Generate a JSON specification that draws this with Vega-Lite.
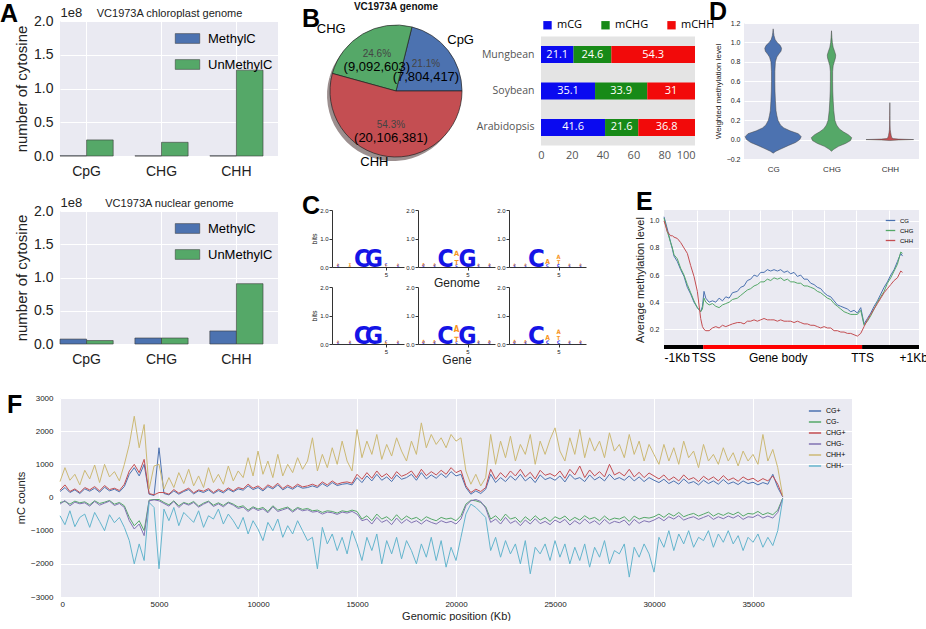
{
"$schema":"https://vega.github.io/schema/vega-lite/v6.json",
"padding":{"left":0,"top":0,"right":0,"bottom":0},
"background":"white",
"spacing":27,
"resolve":{"scale":{"color":"independent","size":"independent","fill":"independent"},"legend":{"color":"independent","size":"independent","fill":"independent"}},
"config":{
 "font":"Liberation Sans",
 "view":{"stroke":null},
 "axis":{"titleFontWeight":"normal","labelColor":"#222","titleColor":"#222","domain":false,"ticks":false,"gridColor":"white","gridWidth":1,"labelOverlap":false},
 "title":{"fontWeight":"normal","color":"#111"}
},
"datasets":{
 "f":[
{"x":0,"CG+":180,"CG-":-150,"CHG+":220,"CHG-":-200,"CHH+":480,"CHH-":-550},
{"x":250,"CG+":300,"CG-":-120,"CHG+":380,"CHG-":-90,"CHH+":900,"CHH-":-820},
{"x":500,"CG+":150,"CG-":-200,"CHG+":180,"CHG-":-250,"CHH+":520,"CHH-":-400},
{"x":750,"CG+":230,"CG-":-110,"CHG+":260,"CHG-":-140,"CHH+":700,"CHH-":-880},
{"x":1000,"CG+":120,"CG-":-160,"CHG+":150,"CHG-":-190,"CHH+":380,"CHH-":-600},
{"x":1250,"CG+":260,"CG-":-130,"CHG+":300,"CHG-":-160,"CHH+":820,"CHH-":-500},
{"x":1500,"CG+":190,"CG-":-220,"CHG+":230,"CHG-":-260,"CHH+":560,"CHH-":-900},
{"x":1750,"CG+":280,"CG-":-100,"CHG+":330,"CHG-":-120,"CHH+":980,"CHH-":-450},
{"x":2000,"CG+":160,"CG-":-180,"CHG+":200,"CHG-":-230,"CHH+":450,"CHH-":-720},
{"x":2250,"CG+":310,"CG-":-140,"CHG+":360,"CHG-":-170,"CHH+":1000,"CHH-":-1000},
{"x":2500,"CG+":200,"CG-":-90,"CHG+":240,"CHG-":-110,"CHH+":620,"CHH-":-520},
{"x":2750,"CG+":250,"CG-":-200,"CHG+":280,"CHG-":-240,"CHH+":780,"CHH-":-760},
{"x":3000,"CG+":170,"CG-":-150,"CHG+":210,"CHG-":-180,"CHH+":500,"CHH-":-600},
{"x":3250,"CG+":330,"CG-":-250,"CHG+":400,"CHG-":-300,"CHH+":1000,"CHH-":-900},
{"x":3500,"CG+":700,"CG-":-600,"CHG+":800,"CHG-":-700,"CHH+":1600,"CHH-":-1300},
{"x":3750,"CG+":900,"CG-":-850,"CHG+":1000,"CHG-":-950,"CHH+":2450,"CHH-":-2000},
{"x":4000,"CG+":650,"CG-":-700,"CHG+":750,"CHG-":-800,"CHH+":1500,"CHH-":-1400},
{"x":4250,"CG+":1000,"CG-":-1000,"CHG+":1150,"CHG-":-1150,"CHH+":2200,"CHH-":-1900},
{"x":4500,"CG+":100,"CG-":-80,"CHG+":120,"CHG-":-100,"CHH+":250,"CHH-":-150},
{"x":4750,"CG+":60,"CG-":-60,"CHG+":80,"CHG-":-70,"CHH+":950,"CHH-":-300},
{"x":5000,"CG+":1500,"CG-":-60,"CHG+":150,"CHG-":-100,"CHH+":1000,"CHH-":-2150},
{"x":5250,"CG+":120,"CG-":-150,"CHG+":150,"CHG-":-180,"CHH+":250,"CHH-":-350},
{"x":5500,"CG+":80,"CG-":-220,"CHG+":100,"CHG-":-260,"CHH+":600,"CHH-":-700},
{"x":5750,"CG+":200,"CG-":-100,"CHG+":240,"CHG-":-120,"CHH+":300,"CHH-":-300},
{"x":6000,"CG+":100,"CG-":-250,"CHG+":130,"CHG-":-300,"CHH+":750,"CHH-":-850},
{"x":6250,"CG+":180,"CG-":-150,"CHG+":210,"CHG-":-170,"CHH+":420,"CHH-":-450},
{"x":6500,"CG+":240,"CG-":-200,"CHG+":280,"CHG-":-230,"CHH+":850,"CHH-":-600},
{"x":6750,"CG+":110,"CG-":-120,"CHG+":140,"CHG-":-150,"CHH+":350,"CHH-":-750},
{"x":7000,"CG+":200,"CG-":-260,"CHG+":230,"CHG-":-290,"CHH+":650,"CHH-":-400},
{"x":7250,"CG+":150,"CG-":-170,"CHG+":190,"CHG-":-200,"CHH+":300,"CHH-":-900},
{"x":7500,"CG+":230,"CG-":-110,"CHG+":270,"CHG-":-130,"CHH+":900,"CHH-":-550},
{"x":7750,"CG+":120,"CG-":-230,"CHG+":150,"CHG-":-270,"CHH+":450,"CHH-":-650},
{"x":8000,"CG+":210,"CG-":-160,"CHG+":250,"CHG-":-190,"CHH+":700,"CHH-":-350},
{"x":8250,"CG+":140,"CG-":-240,"CHG+":180,"CHG-":-280,"CHH+":400,"CHH-":-800},
{"x":8500,"CG+":250,"CG-":-140,"CHG+":290,"CHG-":-160,"CHH+":950,"CHH-":-500},
{"x":8750,"CG+":170,"CG-":-200,"CHG+":200,"CHG-":-230,"CHH+":500,"CHH-":-700},
{"x":9000,"CG+":260,"CG-":-290,"CHG+":300,"CHG-":-330,"CHH+":800,"CHH-":-950},
{"x":9250,"CG+":220,"CG-":-250,"CHG+":260,"CHG-":-290,"CHH+":600,"CHH-":-600},
{"x":9500,"CG+":350,"CG-":-380,"CHG+":400,"CHG-":-420,"CHH+":1200,"CHH-":-1100},
{"x":9750,"CG+":240,"CG-":-280,"CHG+":280,"CHG-":-310,"CHH+":650,"CHH-":-700},
{"x":10000,"CG+":300,"CG-":-350,"CHG+":350,"CHG-":-390,"CHH+":1400,"CHH-":-950},
{"x":10250,"CG+":200,"CG-":-300,"CHG+":240,"CHG-":-340,"CHH+":700,"CHH-":-1300},
{"x":10500,"CG+":330,"CG-":-420,"CHG+":380,"CHG-":-460,"CHH+":1100,"CHH-":-750},
{"x":10750,"CG+":260,"CG-":-250,"CHG+":300,"CHG-":-280,"CHH+":600,"CHH-":-1000},
{"x":11000,"CG+":380,"CG-":-380,"CHG+":430,"CHG-":-420,"CHH+":1300,"CHH-":-650},
{"x":11250,"CG+":230,"CG-":-330,"CHG+":270,"CHG-":-370,"CHH+":650,"CHH-":-1200},
{"x":11500,"CG+":320,"CG-":-290,"CHG+":370,"CHG-":-320,"CHH+":1000,"CHH-":-850},
{"x":11750,"CG+":250,"CG-":-400,"CHG+":290,"CHG-":-440,"CHH+":750,"CHH-":-1100},
{"x":12000,"CG+":350,"CG-":-300,"CHG+":400,"CHG-":-330,"CHH+":1200,"CHH-":-700},
{"x":12250,"CG+":280,"CG-":-360,"CHG+":320,"CHG-":-400,"CHH+":850,"CHH-":-1000},
{"x":12500,"CG+":300,"CG-":-330,"CHG+":350,"CHG-":-370,"CHH+":1100,"CHH-":-1300},
{"x":12750,"CG+":350,"CG-":-400,"CHG+":400,"CHG-":-440,"CHH+":1800,"CHH-":-1200},
{"x":13000,"CG+":300,"CG-":-380,"CHG+":340,"CHG-":-420,"CHH+":800,"CHH-":-2150},
{"x":13250,"CG+":420,"CG-":-450,"CHG+":470,"CHG-":-500,"CHH+":1300,"CHH-":-900},
{"x":13500,"CG+":330,"CG-":-400,"CHG+":380,"CHG-":-440,"CHH+":900,"CHH-":-1400},
{"x":13750,"CG+":450,"CG-":-420,"CHG+":500,"CHG-":-460,"CHH+":1500,"CHH-":-1100},
{"x":14000,"CG+":360,"CG-":-470,"CHG+":400,"CHG-":-510,"CHH+":1000,"CHH-":-1600},
{"x":14250,"CG+":400,"CG-":-400,"CHG+":450,"CHG-":-440,"CHH+":1700,"CHH-":-1200},
{"x":14500,"CG+":420,"CG-":-430,"CHG+":470,"CHG-":-470,"CHH+":1100,"CHH-":-1700},
{"x":14750,"CG+":380,"CG-":-380,"CHG+":430,"CHG-":-420,"CHH+":800,"CHH-":-1000},
{"x":15000,"CG+":600,"CG-":-420,"CHG+":700,"CHG-":-500,"CHH+":2050,"CHH-":-1400},
{"x":15250,"CG+":450,"CG-":-650,"CHG+":550,"CHG-":-700,"CHH+":1200,"CHH-":-1900},
{"x":15500,"CG+":650,"CG-":-550,"CHG+":750,"CHG-":-650,"CHH+":1700,"CHH-":-1200},
{"x":15750,"CG+":500,"CG-":-700,"CHG+":580,"CHG-":-800,"CHH+":1300,"CHH-":-1600},
{"x":16000,"CG+":700,"CG-":-500,"CHG+":800,"CHG-":-600,"CHH+":1900,"CHH-":-1100},
{"x":16250,"CG+":520,"CG-":-650,"CHG+":620,"CHG-":-750,"CHH+":1150,"CHH-":-2000},
{"x":16500,"CG+":620,"CG-":-580,"CHG+":720,"CHG-":-680,"CHH+":1600,"CHH-":-1300},
{"x":16750,"CG+":480,"CG-":-700,"CHG+":560,"CHG-":-820,"CHH+":1250,"CHH-":-1700},
{"x":17000,"CG+":680,"CG-":-520,"CHG+":780,"CHG-":-620,"CHH+":1800,"CHH-":-1200},
{"x":17250,"CG+":550,"CG-":-680,"CHG+":640,"CHG-":-780,"CHH+":1400,"CHH-":-1850},
{"x":17500,"CG+":600,"CG-":-560,"CHG+":700,"CHG-":-660,"CHH+":1100,"CHH-":-1300},
{"x":17750,"CG+":700,"CG-":-650,"CHG+":800,"CHG-":-760,"CHH+":1700,"CHH-":-1600},
{"x":18000,"CG+":520,"CG-":-600,"CHG+":600,"CHG-":-700,"CHH+":1300,"CHH-":-2000},
{"x":18250,"CG+":750,"CG-":-700,"CHG+":850,"CHG-":-800,"CHH+":2250,"CHH-":-1400},
{"x":18500,"CG+":560,"CG-":-580,"CHG+":660,"CHG-":-680,"CHH+":1500,"CHH-":-1800},
{"x":18750,"CG+":680,"CG-":-650,"CHG+":780,"CHG-":-750,"CHH+":1900,"CHH-":-1200},
{"x":19000,"CG+":580,"CG-":-700,"CHG+":680,"CHG-":-800,"CHH+":1600,"CHH-":-1900},
{"x":19250,"CG+":720,"CG-":-600,"CHG+":820,"CHG-":-700,"CHH+":1800,"CHH-":-1300},
{"x":19500,"CG+":600,"CG-":-650,"CHG+":700,"CHG-":-760,"CHH+":1500,"CHH-":-2100},
{"x":19750,"CG+":780,"CG-":-620,"CHG+":900,"CHG-":-720,"CHH+":1900,"CHH-":-1500},
{"x":20000,"CG+":650,"CG-":-700,"CHG+":750,"CHG-":-800,"CHH+":1700,"CHH-":-1900},
{"x":20250,"CG+":700,"CG-":-550,"CHG+":820,"CHG-":-650,"CHH+":1800,"CHH-":-1200},
{"x":20500,"CG+":300,"CG-":-200,"CHG+":350,"CHG-":-250,"CHH+":800,"CHH-":-500},
{"x":20750,"CG+":100,"CG-":-80,"CHG+":150,"CHG-":-100,"CHH+":400,"CHH-":-200},
{"x":21000,"CG+":200,"CG-":-100,"CHG+":250,"CHG-":-60,"CHH+":700,"CHH-":-300},
{"x":21250,"CG+":120,"CG-":-150,"CHG+":180,"CHG-":-120,"CHH+":350,"CHH-":-450},
{"x":21500,"CG+":250,"CG-":-280,"CHG+":300,"CHG-":-320,"CHH+":600,"CHH-":-600},
{"x":21750,"CG+":700,"CG-":-650,"CHG+":850,"CHG-":-750,"CHH+":1900,"CHH-":-1600},
{"x":22000,"CG+":450,"CG-":-550,"CHG+":550,"CHG-":-650,"CHH+":1000,"CHH-":-1200},
{"x":22250,"CG+":600,"CG-":-700,"CHG+":750,"CHG-":-800,"CHH+":1700,"CHH-":-1800},
{"x":22500,"CG+":480,"CG-":-500,"CHG+":600,"CHG-":-600,"CHH+":1200,"CHH-":-1300},
{"x":22750,"CG+":650,"CG-":-650,"CHG+":800,"CHG-":-780,"CHH+":1850,"CHH-":-1700},
{"x":23000,"CG+":520,"CG-":-600,"CHG+":650,"CHG-":-700,"CHH+":1100,"CHH-":-1400},
{"x":23250,"CG+":700,"CG-":-750,"CHG+":850,"CHG-":-850,"CHH+":1600,"CHH-":-2000},
{"x":23500,"CG+":500,"CG-":-580,"CHG+":620,"CHG-":-680,"CHH+":1300,"CHH-":-1300},
{"x":23750,"CG+":620,"CG-":-700,"CHG+":760,"CHG-":-800,"CHH+":1900,"CHH-":-2300},
{"x":24000,"CG+":450,"CG-":-550,"CHG+":560,"CHG-":-640,"CHH+":1000,"CHH-":-1500},
{"x":24250,"CG+":680,"CG-":-680,"CHG+":820,"CHG-":-790,"CHH+":1700,"CHH-":-1700},
{"x":24500,"CG+":540,"CG-":-600,"CHG+":670,"CHG-":-720,"CHH+":1300,"CHH-":-1400},
{"x":24750,"CG+":600,"CG-":-720,"CHG+":720,"CHG-":-820,"CHH+":1750,"CHH-":-1900},
{"x":25000,"CG+":520,"CG-":-580,"CHG+":640,"CHG-":-680,"CHH+":2100,"CHH-":-1300},
{"x":25250,"CG+":650,"CG-":-650,"CHG+":800,"CHG-":-760,"CHH+":1400,"CHH-":-1800},
{"x":25500,"CG+":470,"CG-":-560,"CHG+":580,"CHG-":-660,"CHH+":1100,"CHH-":-1400},
{"x":25750,"CG+":700,"CG-":-700,"CHG+":850,"CHG-":-830,"CHH+":1800,"CHH-":-2000},
{"x":26000,"CG+":550,"CG-":-600,"CHG+":680,"CHG-":-700,"CHH+":1300,"CHH-":-1500},
{"x":26250,"CG+":600,"CG-":-680,"CHG+":950,"CHG-":-800,"CHH+":2050,"CHH-":-1900},
{"x":26500,"CG+":480,"CG-":-550,"CHG+":600,"CHG-":-650,"CHH+":1200,"CHH-":-1400},
{"x":26750,"CG+":680,"CG-":-650,"CHG+":830,"CHG-":-780,"CHH+":1800,"CHH-":-2100},
{"x":27000,"CG+":530,"CG-":-600,"CHG+":650,"CHG-":-700,"CHH+":1400,"CHH-":-1500},
{"x":27250,"CG+":620,"CG-":-700,"CHG+":780,"CHG-":-820,"CHH+":1700,"CHH-":-1800},
{"x":27500,"CG+":500,"CG-":-560,"CHG+":620,"CHG-":-660,"CHH+":1200,"CHH-":-1300},
{"x":27750,"CG+":700,"CG-":-680,"CHG+":1000,"CHG-":-790,"CHH+":1950,"CHH-":-2000},
{"x":28000,"CG+":540,"CG-":-620,"CHG+":680,"CHG-":-720,"CHH+":1400,"CHH-":-1600},
{"x":28250,"CG+":600,"CG-":-650,"CHG+":760,"CHG-":-760,"CHH+":1600,"CHH-":-1700},
{"x":28500,"CG+":520,"CG-":-580,"CHG+":650,"CHG-":-680,"CHH+":1200,"CHH-":-1400},
{"x":28750,"CG+":650,"CG-":-720,"CHG+":850,"CHG-":-840,"CHH+":1900,"CHH-":-2400},
{"x":29000,"CG+":500,"CG-":-560,"CHG+":620,"CHG-":-660,"CHH+":1300,"CHH-":-1500},
{"x":29250,"CG+":620,"CG-":-650,"CHG+":760,"CHG-":-780,"CHH+":1700,"CHH-":-1800},
{"x":29500,"CG+":480,"CG-":-600,"CHG+":600,"CHG-":-700,"CHH+":1100,"CHH-":-1400},
{"x":29750,"CG+":600,"CG-":-620,"CHG+":740,"CHG-":-740,"CHH+":1600,"CHH-":-1700},
{"x":30000,"CG+":520,"CG-":-580,"CHG+":650,"CHG-":-680,"CHH+":1300,"CHH-":-2250},
{"x":30250,"CG+":450,"CG-":-500,"CHG+":560,"CHG-":-600,"CHH+":1000,"CHH-":-1200},
{"x":30500,"CG+":550,"CG-":-600,"CHG+":680,"CHG-":-700,"CHH+":1600,"CHH-":-1500},
{"x":30750,"CG+":420,"CG-":-480,"CHG+":520,"CHG-":-580,"CHH+":1100,"CHH-":-1000},
{"x":31000,"CG+":500,"CG-":-560,"CHG+":620,"CHG-":-650,"CHH+":1500,"CHH-":-1600},
{"x":31250,"CG+":400,"CG-":-450,"CHG+":500,"CHG-":-550,"CHH+":1000,"CHH-":-1100},
{"x":31500,"CG+":560,"CG-":-580,"CHG+":680,"CHG-":-680,"CHH+":1700,"CHH-":-1400},
{"x":31750,"CG+":430,"CG-":-520,"CHG+":540,"CHG-":-620,"CHH+":1200,"CHH-":-1000},
{"x":32000,"CG+":480,"CG-":-480,"CHG+":600,"CHG-":-580,"CHH+":1400,"CHH-":-1500},
{"x":32250,"CG+":380,"CG-":-560,"CHG+":480,"CHG-":-660,"CHH+":900,"CHH-":-1200},
{"x":32500,"CG+":520,"CG-":-500,"CHG+":640,"CHG-":-600,"CHH+":1600,"CHH-":-1300},
{"x":32750,"CG+":420,"CG-":-440,"CHG+":530,"CHG-":-540,"CHH+":1100,"CHH-":-1000},
{"x":33000,"CG+":500,"CG-":-560,"CHG+":620,"CHG-":-660,"CHH+":1300,"CHH-":-1500},
{"x":33250,"CG+":400,"CG-":-480,"CHG+":500,"CHG-":-580,"CHH+":1000,"CHH-":-1100},
{"x":33500,"CG+":540,"CG-":-540,"CHG+":660,"CHG-":-640,"CHH+":1500,"CHH-":-1350},
{"x":33750,"CG+":410,"CG-":-460,"CHG+":520,"CHG-":-560,"CHH+":1100,"CHH-":-1000},
{"x":34000,"CG+":470,"CG-":-520,"CHG+":590,"CHG-":-620,"CHH+":1350,"CHH-":-1400},
{"x":34250,"CG+":390,"CG-":-440,"CHG+":490,"CHG-":-540,"CHH+":950,"CHH-":-1150},
{"x":34500,"CG+":500,"CG-":-560,"CHG+":620,"CHG-":-660,"CHH+":1400,"CHH-":-1600},
{"x":34750,"CG+":420,"CG-":-480,"CHG+":530,"CHG-":-580,"CHH+":1100,"CHH-":-1200},
{"x":35000,"CG+":460,"CG-":-500,"CHG+":580,"CHG-":-600,"CHH+":1300,"CHH-":-1350},
{"x":35250,"CG+":380,"CG-":-420,"CHG+":480,"CHG-":-520,"CHH+":1000,"CHH-":-1100},
{"x":35500,"CG+":450,"CG-":-520,"CHG+":570,"CHG-":-620,"CHH+":1900,"CHH-":-1500},
{"x":35750,"CG+":400,"CG-":-460,"CHG+":500,"CHG-":-560,"CHH+":1100,"CHH-":-1200},
{"x":36000,"CG+":700,"CG-":-520,"CHG+":650,"CHG-":-620,"CHH+":1450,"CHH-":-1450},
{"x":36250,"CG+":300,"CG-":-380,"CHG+":400,"CHG-":-450,"CHH+":900,"CHH-":-1000},
{"x":36500,"CG+":20,"CG-":-20,"CHG+":30,"CHG-":-30,"CHH+":50,"CHH-":-50}
 ],
 "e":[
{"p":0,"CG":1.03,"CHG":1.02,"CHH":1.0},{"p":1.7,"CG":0.94,"CHG":0.92,"CHH":0.92},{"p":3.4,"CG":0.84,"CHG":0.84,"CHH":0.89},{"p":4.3,"CG":0.79,"CHG":0.8,"CHH":0.89},{"p":5.1,"CG":0.74,"CHG":0.75,"CHH":0.88},{"p":6.8,"CG":0.7,"CHG":0.72,"CHH":0.87},{"p":8.5,"CG":0.64,"CHG":0.65,"CHH":0.84},{"p":10.2,"CG":0.59,"CHG":0.6,"CHH":0.8},{"p":11.9,"CG":0.51,"CHG":0.53,"CHH":0.76},{"p":13.6,"CG":0.46,"CHG":0.47,"CHH":0.67},{"p":15.3,"CG":0.4,"CHG":0.41,"CHH":0.59},{"p":17.0,"CG":0.36,"CHG":0.36,"CHH":0.48},{"p":18.7,"CG":0.33,"CHG":0.33,"CHH":0.28},{"p":19.6,"CG":0.37,"CHG":0.35,"CHH":0.22},{"p":20.4,"CG":0.48,"CHG":0.43,"CHH":0.2},{"p":21.3,"CG":0.43,"CHG":0.4,"CHH":0.19},{"p":23.0,"CG":0.4,"CHG":0.38,"CHH":0.19},{"p":24.7,"CG":0.41,"CHG":0.39,"CHH":0.21},{"p":26.4,"CG":0.4,"CHG":0.37,"CHH":0.22},{"p":28.1,"CG":0.43,"CHG":0.36,"CHH":0.21},{"p":29.8,"CG":0.41,"CHG":0.38,"CHH":0.23},{"p":31.5,"CG":0.44,"CHG":0.39,"CHH":0.22},{"p":33.2,"CG":0.43,"CHG":0.4,"CHH":0.23},{"p":34.9,"CG":0.47,"CHG":0.42,"CHH":0.24},{"p":37.4,"CG":0.48,"CHG":0.43,"CHH":0.25},{"p":39.1,"CG":0.51,"CHG":0.45,"CHH":0.25},{"p":40.8,"CG":0.52,"CHG":0.47,"CHH":0.24},{"p":42.5,"CG":0.56,"CHG":0.49,"CHH":0.26},{"p":44.2,"CG":0.57,"CHG":0.5,"CHH":0.26},{"p":45.9,"CG":0.6,"CHG":0.52,"CHH":0.27},{"p":47.6,"CG":0.59,"CHG":0.53,"CHH":0.26},{"p":49.3,"CG":0.62,"CHG":0.55,"CHH":0.27},{"p":51.0,"CG":0.62,"CHG":0.55,"CHH":0.28},{"p":52.7,"CG":0.64,"CHG":0.57,"CHH":0.27},{"p":54.4,"CG":0.63,"CHG":0.56,"CHH":0.27},{"p":56.1,"CG":0.64,"CHG":0.58,"CHH":0.27},{"p":57.8,"CG":0.63,"CHG":0.57,"CHH":0.26},{"p":59.5,"CG":0.64,"CHG":0.58,"CHH":0.27},{"p":61.2,"CG":0.62,"CHG":0.56,"CHH":0.26},{"p":62.9,"CG":0.63,"CHG":0.57,"CHH":0.26},{"p":64.6,"CG":0.61,"CHG":0.55,"CHH":0.26},{"p":66.3,"CG":0.62,"CHG":0.55,"CHH":0.25},{"p":68.0,"CG":0.59,"CHG":0.54,"CHH":0.26},{"p":69.7,"CG":0.6,"CHG":0.54,"CHH":0.25},{"p":71.4,"CG":0.57,"CHG":0.52,"CHH":0.24},{"p":73.1,"CG":0.57,"CHG":0.52,"CHH":0.24},{"p":74.8,"CG":0.54,"CHG":0.51,"CHH":0.23},{"p":76.5,"CG":0.53,"CHG":0.5,"CHH":0.23},{"p":78.2,"CG":0.51,"CHG":0.48,"CHH":0.22},{"p":79.9,"CG":0.5,"CHG":0.47,"CHH":0.21},{"p":81.6,"CG":0.47,"CHG":0.45,"CHH":0.22},{"p":83.3,"CG":0.45,"CHG":0.43,"CHH":0.21},{"p":85.0,"CG":0.44,"CHG":0.42,"CHH":0.21},{"p":86.7,"CG":0.41,"CHG":0.39,"CHH":0.19},{"p":88.4,"CG":0.38,"CHG":0.37,"CHH":0.19},{"p":90.1,"CG":0.37,"CHG":0.35,"CHH":0.18},{"p":91.8,"CG":0.36,"CHG":0.33,"CHH":0.18},{"p":93.5,"CG":0.35,"CHG":0.32,"CHH":0.17},{"p":95.2,"CG":0.33,"CHG":0.31,"CHH":0.17},{"p":96.9,"CG":0.34,"CHG":0.31,"CHH":0.16},{"p":98.6,"CG":0.32,"CHG":0.31,"CHH":0.15},{"p":100.3,"CG":0.36,"CHG":0.34,"CHH":0.17},{"p":102.0,"CG":0.24,"CHG":0.23,"CHH":0.22},{"p":103.7,"CG":0.28,"CHG":0.26,"CHH":0.27},{"p":105.4,"CG":0.32,"CHG":0.3,"CHH":0.31},{"p":107.1,"CG":0.37,"CHG":0.35,"CHH":0.35},{"p":108.8,"CG":0.41,"CHG":0.4,"CHH":0.39},{"p":110.5,"CG":0.46,"CHG":0.44,"CHH":0.43},{"p":112.2,"CG":0.51,"CHG":0.48,"CHH":0.47},{"p":113.9,"CG":0.55,"CHG":0.54,"CHH":0.5},{"p":115.6,"CG":0.6,"CHG":0.58,"CHH":0.53},{"p":117.3,"CG":0.64,"CHG":0.63,"CHH":0.56},{"p":119.0,"CG":0.7,"CHG":0.68,"CHH":0.58},{"p":120.7,"CG":0.76,"CHG":0.77,"CHH":0.63},{"p":121.6,"CG":0.74,"CHG":0.76,"CHH":0.62}
 ],
 "violin":[
{"ctx":"CG","y":-0.14,"w":0},{"ctx":"CG","y":-0.12,"w":0.1},{"ctx":"CG","y":-0.1,"w":0.25},{"ctx":"CG","y":-0.06,"w":0.55},{"ctx":"CG","y":-0.03,"w":0.8},{"ctx":"CG","y":0,"w":0.95},{"ctx":"CG","y":0.03,"w":1},{"ctx":"CG","y":0.06,"w":0.9},{"ctx":"CG","y":0.09,"w":0.6},{"ctx":"CG","y":0.12,"w":0.38},{"ctx":"CG","y":0.15,"w":0.26},{"ctx":"CG","y":0.2,"w":0.17},{"ctx":"CG","y":0.25,"w":0.13},{"ctx":"CG","y":0.3,"w":0.1},{"ctx":"CG","y":0.4,"w":0.08},{"ctx":"CG","y":0.5,"w":0.065},{"ctx":"CG","y":0.6,"w":0.06},{"ctx":"CG","y":0.7,"w":0.06},{"ctx":"CG","y":0.8,"w":0.08},{"ctx":"CG","y":0.85,"w":0.13},{"ctx":"CG","y":0.88,"w":0.2},{"ctx":"CG","y":0.91,"w":0.28},{"ctx":"CG","y":0.94,"w":0.3},{"ctx":"CG","y":0.97,"w":0.25},{"ctx":"CG","y":1.0,"w":0.14},{"ctx":"CG","y":1.03,"w":0.07},{"ctx":"CG","y":1.07,"w":0.03},{"ctx":"CG","y":1.1,"w":0.015},{"ctx":"CG","y":1.14,"w":0},
{"ctx":"CHG","y":-0.12,"w":0},{"ctx":"CHG","y":-0.1,"w":0.08},{"ctx":"CHG","y":-0.07,"w":0.25},{"ctx":"CHG","y":-0.04,"w":0.5},{"ctx":"CHG","y":-0.01,"w":0.68},{"ctx":"CHG","y":0.02,"w":0.72},{"ctx":"CHG","y":0.05,"w":0.6},{"ctx":"CHG","y":0.08,"w":0.42},{"ctx":"CHG","y":0.11,"w":0.28},{"ctx":"CHG","y":0.15,"w":0.18},{"ctx":"CHG","y":0.2,"w":0.12},{"ctx":"CHG","y":0.3,"w":0.08},{"ctx":"CHG","y":0.4,"w":0.06},{"ctx":"CHG","y":0.5,"w":0.045},{"ctx":"CHG","y":0.6,"w":0.04},{"ctx":"CHG","y":0.7,"w":0.04},{"ctx":"CHG","y":0.76,"w":0.06},{"ctx":"CHG","y":0.8,"w":0.1},{"ctx":"CHG","y":0.84,"w":0.14},{"ctx":"CHG","y":0.87,"w":0.15},{"ctx":"CHG","y":0.9,"w":0.12},{"ctx":"CHG","y":0.95,"w":0.06},{"ctx":"CHG","y":1.0,"w":0.03},{"ctx":"CHG","y":1.05,"w":0.015},{"ctx":"CHG","y":1.12,"w":0},
{"ctx":"CHH","y":-0.01,"w":0},{"ctx":"CHH","y":-0.005,"w":0.3},{"ctx":"CHH","y":0,"w":0.85},{"ctx":"CHH","y":0.005,"w":0.3},{"ctx":"CHH","y":0.01,"w":0.12},{"ctx":"CHH","y":0.02,"w":0.07},{"ctx":"CHH","y":0.04,"w":0.05},{"ctx":"CHH","y":0.07,"w":0.03},{"ctx":"CHH","y":0.1,"w":0.015},{"ctx":"CHH","y":0.15,"w":0.008},{"ctx":"CHH","y":0.25,"w":0.005},{"ctx":"CHH","y":0.38,"w":0}
 ],
 "logo":[
{"panel":"g1","pos":1,"l":"A","b":0.05},{"panel":"g1","pos":1,"l":"C","b":0.03},{"panel":"g1","pos":2,"l":"T","b":0.06},{"panel":"g1","pos":2,"l":"A","b":0.03},{"panel":"g1","pos":3,"l":"C","b":1.7},{"panel":"g1","pos":4,"l":"G","b":1.7},{"panel":"g1","pos":5,"l":"C","b":0.06},{"panel":"g1","pos":5,"l":"T","b":0.04},{"panel":"g1","pos":6,"l":"A","b":0.04},{"panel":"g1","pos":6,"l":"C","b":0.02},
{"panel":"g2","pos":1,"l":"A","b":0.1},{"panel":"g2","pos":1,"l":"C","b":0.04},{"panel":"g2","pos":2,"l":"A","b":0.07},{"panel":"g2","pos":2,"l":"C","b":0.03},{"panel":"g2","pos":3,"l":"C","b":1.72},{"panel":"g2","pos":4,"l":"C","b":0.08},{"panel":"g2","pos":4,"l":"T","b":0.3},{"panel":"g2","pos":4,"l":"A","b":0.35},{"panel":"g2","pos":5,"l":"G","b":1.72},{"panel":"g2","pos":6,"l":"A","b":0.05},{"panel":"g2","pos":6,"l":"C","b":0.03},{"panel":"g2","pos":7,"l":"A","b":0.06},{"panel":"g2","pos":7,"l":"C","b":0.03},
{"panel":"g3","pos":1,"l":"A","b":0.05},{"panel":"g3","pos":1,"l":"C","b":0.03},{"panel":"g3","pos":2,"l":"A","b":0.04},{"panel":"g3","pos":2,"l":"C","b":0.02},{"panel":"g3","pos":3,"l":"C","b":1.8},{"panel":"g3","pos":4,"l":"C","b":0.12},{"panel":"g3","pos":4,"l":"A","b":0.3},{"panel":"g3","pos":5,"l":"C","b":0.1},{"panel":"g3","pos":5,"l":"A","b":0.22},{"panel":"g3","pos":5,"l":"T","b":0.18},{"panel":"g3","pos":6,"l":"A","b":0.03},{"panel":"g3","pos":6,"l":"C","b":0.02},{"panel":"g3","pos":7,"l":"A","b":0.04},{"panel":"g3","pos":7,"l":"C","b":0.02},
{"panel":"n1","pos":1,"l":"A","b":0.05},{"panel":"n1","pos":1,"l":"C","b":0.02},{"panel":"n1","pos":2,"l":"A","b":0.05},{"panel":"n1","pos":2,"l":"C","b":0.02},{"panel":"n1","pos":3,"l":"C","b":1.75},{"panel":"n1","pos":4,"l":"G","b":1.75},{"panel":"n1","pos":5,"l":"C","b":0.05},{"panel":"n1","pos":5,"l":"A","b":0.03},{"panel":"n1","pos":6,"l":"A","b":0.04},{"panel":"n1","pos":6,"l":"C","b":0.02},
{"panel":"n2","pos":1,"l":"A","b":0.12},{"panel":"n2","pos":1,"l":"C","b":0.04},{"panel":"n2","pos":2,"l":"A","b":0.08},{"panel":"n2","pos":2,"l":"C","b":0.03},{"panel":"n2","pos":3,"l":"C","b":1.75},{"panel":"n2","pos":4,"l":"C","b":0.08},{"panel":"n2","pos":4,"l":"T","b":0.35},{"panel":"n2","pos":4,"l":"A","b":0.4},{"panel":"n2","pos":5,"l":"G","b":1.75},{"panel":"n2","pos":6,"l":"A","b":0.06},{"panel":"n2","pos":6,"l":"C","b":0.03},{"panel":"n2","pos":7,"l":"A","b":0.1},{"panel":"n2","pos":7,"l":"C","b":0.04},
{"panel":"n3","pos":1,"l":"A","b":0.12},{"panel":"n3","pos":1,"l":"C","b":0.04},{"panel":"n3","pos":2,"l":"A","b":0.08},{"panel":"n3","pos":2,"l":"C","b":0.03},{"panel":"n3","pos":3,"l":"C","b":1.8},{"panel":"n3","pos":4,"l":"C","b":0.15},{"panel":"n3","pos":4,"l":"A","b":0.3},{"panel":"n3","pos":5,"l":"C","b":0.15},{"panel":"n3","pos":5,"l":"A","b":0.25},{"panel":"n3","pos":5,"l":"T","b":0.2},{"panel":"n3","pos":6,"l":"A","b":0.05},{"panel":"n3","pos":6,"l":"C","b":0.03},{"panel":"n3","pos":7,"l":"A","b":0.07},{"panel":"n3","pos":7,"l":"C","b":0.03}
 ]
},
"vconcat":[
 {"hconcat":[
   {"vconcat":[
     {"width":218,"height":135,
      "view":{"fill":"#EAEAF2"},
      "title":{"text":"A","anchor":"start","frame":"group","fontSize":25,"fontWeight":"bold","color":"black","dx":-60,"offset":-40,"baseline":"alphabetic"},
      "data":{"values":[
        {"ctx":"CpG","type":"MethylC","n":300000},{"ctx":"CpG","type":"UnMethylC","n":23800000},
        {"ctx":"CHG","type":"MethylC","n":200000},{"ctx":"CHG","type":"UnMethylC","n":20300000},
        {"ctx":"CHH","type":"MethylC","n":250000},{"ctx":"CHH","type":"UnMethylC","n":127200000}]},
      "layer":[
        {"mark":{"type":"bar","stroke":"#3a3a3a","strokeWidth":0.6},
         "encoding":{
           "x":{"field":"ctx","type":"nominal","sort":["CpG","CHG","CHH"],"scale":{"paddingInner":0.29,"paddingOuter":0.1,"align":0},"axis":{"orient":"bottom","title":null,"labelAngle":0,"labelFontSize":14,"grid":true,"bandPosition":0.5,"labelPadding":8}},
           "xOffset":{"field":"type","type":"nominal","sort":["MethylC","UnMethylC"]},
           "y":{"field":"n","type":"quantitative","scale":{"domain":[0,200000000]},"axis":{"values":[0,50000000,100000000,150000000,200000000],"labelExpr":"format(datum.value/1e8,'.1f')","labelOverlap":false,"title":"number of cytosine","titleFontSize":15,"labelFontSize":14,"labelPadding":7}},
           "color":{"field":"type","type":"nominal","scale":{"domain":["MethylC","UnMethylC"],"range":["#4C72B0","#55A868"]},"legend":{"title":null,"orient":"top-right","offset":3,"labelFontSize":13,"symbolType":"M-1,-0.4H1V0.4H-1Z","symbolSize":600,"symbolStrokeColor":"#333","symbolStrokeWidth":0.5,"rowPadding":6,"labelOffset":8,"padding":2}}
         }},
        {"data":{"values":[{"t":"1e8"}]},
         "mark":{"type":"text","align":"left","baseline":"bottom","fontSize":13,"dx":-26,"dy":-1,"color":"#222"},
         "encoding":{"x":{"datum":"CpG","axis":{"orient":"top","labels":false,"grid":false,"title":"VC1973A chloroplast genome","titleFontSize":11,"titlePadding":3}},
           "y":{"datum":200000000,"axis":{"values":[0,50000000,100000000,150000000,200000000],"labelExpr":"format(datum.value/1e8,'.1f')","labelOverlap":false,"title":"number of cytosine","titleFontSize":15,"labelFontSize":14,"labelPadding":7}},
           "text":{"field":"t"}}}
      ],
      "resolve":{"axis":{"x":"independent"}}},
     {"width":218,"height":133,
      "view":{"fill":"#EAEAF2"},
      "data":{"values":[
        {"ctx":"CpG","type":"MethylC","n":7400000},{"ctx":"CpG","type":"UnMethylC","n":5200000},
        {"ctx":"CHG","type":"MethylC","n":9000000},{"ctx":"CHG","type":"UnMethylC","n":9000000},
        {"ctx":"CHH","type":"MethylC","n":19600000},{"ctx":"CHH","type":"UnMethylC","n":90700000}]},
      "layer":[
        {"mark":{"type":"bar","stroke":"#3a3a3a","strokeWidth":0.6},
         "encoding":{
           "x":{"field":"ctx","type":"nominal","sort":["CpG","CHG","CHH"],"scale":{"paddingInner":0.29,"paddingOuter":0.1,"align":0},"axis":{"orient":"bottom","title":null,"labelAngle":0,"labelFontSize":14,"grid":true,"bandPosition":0.5,"labelPadding":8}},
           "xOffset":{"field":"type","type":"nominal","sort":["MethylC","UnMethylC"]},
           "y":{"field":"n","type":"quantitative","scale":{"domain":[0,200000000]},"axis":{"values":[0,50000000,100000000,150000000,200000000],"labelExpr":"format(datum.value/1e8,'.1f')","labelOverlap":false,"title":"number of cytosine","titleFontSize":15,"labelFontSize":14,"labelPadding":7}},
           "color":{"field":"type","type":"nominal","scale":{"domain":["MethylC","UnMethylC"],"range":["#4C72B0","#55A868"]},"legend":{"title":null,"orient":"top-right","offset":3,"labelFontSize":13,"symbolType":"M-1,-0.4H1V0.4H-1Z","symbolSize":600,"symbolStrokeColor":"#333","symbolStrokeWidth":0.5,"rowPadding":6,"labelOffset":8,"padding":2}}
         }},
        {"data":{"values":[{"t":"1e8"}]},
         "mark":{"type":"text","align":"left","baseline":"bottom","fontSize":13,"dx":-26,"dy":-1,"color":"#222"},
         "encoding":{"x":{"datum":"CpG","axis":{"orient":"top","labels":false,"grid":false,"title":"VC1973A nuclear genome","titleFontSize":11,"titlePadding":3}},
           "y":{"datum":200000000,"axis":{"values":[0,50000000,100000000,150000000,200000000],"labelExpr":"format(datum.value/1e8,'.1f')","labelOverlap":false,"title":"number of cytosine","titleFontSize":15,"labelFontSize":14,"labelPadding":7}},
           "text":{"field":"t"}}}
      ],
      "resolve":{"axis":{"x":"independent"}}}
   ],"spacing":55,"bounds":"flush",
   "resolve":{"scale":{"color":"independent"},"legend":{"color":"independent"}}},
   {"vconcat":[
     {"title":{"text":"B","anchor":"start","frame":"group","fontSize":25,"fontWeight":"bold","color":"black","dx":-30,"offset":-52,"baseline":"alphabetic"},
      "hconcat":[
       {"width":128,"height":140,
        "title":{"text":"VC1973A genome","fontSize":10,"fontWeight":"bold","offset":2,"frame":"group","anchor":"middle"},
        "data":{"values":[
          {"ctx":"CpG","pct":21.1,"n":"(7,804,417)","p":"21.1%"},
          {"ctx":"CHG","pct":24.6,"n":"(9,092,603)","p":"24.6%"},
          {"ctx":"CHH","pct":54.3,"n":"(20,106,381)","p":"54.3%"}]},
        "encoding":{
          "theta":{"field":"pct","type":"quantitative","stack":true,"scale":{"range":[0.2443,6.5275]}},
          "order":{"field":"ctx","sort":"descending"},
          "detail":{"field":"ctx"}
        },
        "layer":[
          {"mark":{"type":"arc","outerRadius":66,"fill":"#9C8F8F","xOffset":-3,"yOffset":4}},
          {"mark":{"type":"arc","outerRadius":66,"stroke":"#222","strokeWidth":0.7},
           "encoding":{"color":{"field":"ctx","type":"nominal","scale":{"domain":["CpG","CHG","CHH"],"range":["#4C72B0","#55A868","#C44E52"]},"legend":null}}},
          {"mark":{"type":"text","radius":38,"dy":-4,"fontSize":10,"fill":"#444"},"encoding":{"text":{"field":"p"}}},
          {"mark":{"type":"text","radius":38,"dy":9,"fontSize":13,"fill":"#000"},"encoding":{"text":{"field":"n"}}},
          {"mark":{"type":"text","radius":82,"fontSize":13,"align":"center"},"encoding":{"text":{"condition":{"test":"datum.ctx==='CpG'","field":"ctx"},"value":""}}},
          {"mark":{"type":"text","radius":72,"fontSize":13,"align":"right","dx":-14},"encoding":{"text":{"condition":{"test":"datum.ctx==='CHG'","field":"ctx"},"value":""}}},
          {"mark":{"type":"text","radius":72,"fontSize":13,"align":"center","dx":-12},"encoding":{"text":{"condition":{"test":"datum.ctx==='CHH'","field":"ctx"},"value":""}}}
        ]},
       {"width":186,"height":109,
        "data":{"values":[
          {"sp":"Mungbean","t":"mCG","v":21.1},{"sp":"Mungbean","t":"mCHG","v":24.6},{"sp":"Mungbean","t":"mCHH","v":54.3},
          {"sp":"Soybean","t":"mCG","v":35.1},{"sp":"Soybean","t":"mCHG","v":33.9},{"sp":"Soybean","t":"mCHH","v":31},
          {"sp":"Arabidopsis","t":"mCG","v":41.6},{"sp":"Arabidopsis","t":"mCHG","v":21.6},{"sp":"Arabidopsis","t":"mCHH","v":36.8}]},
        "transform":[{"stack":"v","groupby":["sp"],"sort":[{"field":"t"}],"as":["v0","v1"]}],
        "layer":[
          {"data":{"values":[{"bg":1}]},
           "mark":{"type":"rect","color":"#E4E4E4"},
           "encoding":{"x":{"datum":0,"scale":{"domain":[-20.78,100],"nice":false,"zero":false},"axis":{"values":[0,20,40,60,80,100],"labelOverlap":false,"title":null,"grid":false,"labelFontSize":11,"labelColor":"#555","labelFont":"Open Sans","labelPadding":4}},"x2":{"datum":100}}},
          {"mark":{"type":"bar"},
           "encoding":{
             "y":{"field":"sp","type":"nominal","sort":["Mungbean","Soybean","Arabidopsis"],"scale":{"paddingInner":0.53,"paddingOuter":0.26},"axis":{"title":null,"labelFontSize":10.5,"labelColor":"#555","labelPadding":7,"labelFont":"Open Sans","offset":-32}},
             "x":{"field":"v0","type":"quantitative","scale":{"domain":[-20.78,100],"nice":false,"zero":false},"axis":{"values":[0,20,40,60,80,100],"labelOverlap":false,"title":null,"grid":false,"labelFontSize":11,"labelColor":"#555","labelFont":"Open Sans","labelPadding":4}},
             "x2":{"field":"v1"},
             "color":{"field":"t","type":"nominal","scale":{"domain":["mCG","mCHG","mCHH"],"range":["#0A0AF0","#178A17","#F20A0A"]},"legend":{"title":null,"orient":"none","legendX":33,"legendY":-17,"direction":"horizontal","symbolType":"square","symbolSize":70,"labelFontSize":11,"labelFont":"Open Sans","columnPadding":17}}
           }},
          {"transform":[{"fold":["v0","v1"],"as":["k","edge"]}],
           "mark":{"type":"text","color":"white","fontSize":11,"font":"Open Sans"},
           "encoding":{"y":{"field":"sp","type":"nominal","sort":["Mungbean","Soybean","Arabidopsis"],"axis":{"title":null,"labelFontSize":10.5,"labelColor":"#555","labelPadding":7,"labelFont":"Open Sans","offset":-32}},
             "x":{"aggregate":"mean","field":"edge","type":"quantitative","axis":{"values":[0,20,40,60,80,100],"labelOverlap":false,"title":null,"grid":false,"labelFontSize":11,"labelColor":"#555","labelFont":"Open Sans","labelPadding":4}},"detail":{"field":"t"},"text":{"field":"v","type":"quantitative"}}}
        ]},
       {"width":175,"height":136,
        "view":{"fill":"#EAEAF2"},
        "title":{"text":"D","anchor":"start","frame":"group","fontSize":25,"fontWeight":"bold","color":"black","dx":-35,"offset":-26,"baseline":"alphabetic"},
        "data":{"name":"violin"},
        "encoding":{"y":{"field":"y","type":"quantitative","scale":{"domain":[-0.2,1.2],"nice":false,"zero":false},"axis":{"tickCount":7,"labelOverlap":false,"labelBound":false,"labelFlush":false,"format":".1f","labelFontSize":7,"title":"Weighted methylation level","titleFontSize":8,"labelPadding":4}}},
        "layer":[
          {"transform":[{"filter":"datum.ctx==='CG'"}],"mark":{"type":"area","orient":"horizontal","fill":"#4C72B0","stroke":"#444","strokeWidth":0.5},
           "encoding":{"x":{"field":"w","type":"quantitative","stack":"center","scale":{"domain":[-0.02,3.1],"nice":false,"zero":false},"axis":null}}},
          {"transform":[{"filter":"datum.ctx==='CHG'"}],"mark":{"type":"area","orient":"horizontal","fill":"#55A868","stroke":"#444","strokeWidth":0.5},
           "encoding":{"x":{"field":"w","type":"quantitative","stack":"center","scale":{"domain":[-1.2,1.92],"nice":false,"zero":false},"axis":null}}},
          {"transform":[{"filter":"datum.ctx==='CHH'"}],"mark":{"type":"area","orient":"horizontal","fill":"#C44E52","stroke":"#444","strokeWidth":0.5},
           "encoding":{"x":{"field":"w","type":"quantitative","stack":"center","scale":{"domain":[-2.175,0.945],"nice":false,"zero":false},"axis":null}}},
          {"transform":[{"filter":"datum.w===0"}],"mark":{"type":"point","opacity":0},
           "encoding":{"x":{"field":"ctx","type":"nominal","sort":["CG","CHG","CHH"],"scale":{"paddingInner":0,"paddingOuter":0},"axis":{"title":null,"labelAngle":0,"labelFontSize":8,"labelPadding":6,"grid":false,"labelColor":"#333"}}}}
        ],
        "resolve":{"scale":{"x":"independent"}}}
     ],"spacing":49,"bounds":"flush","center":true,
     "resolve":{"scale":{"color":"independent"},"legend":{"color":"independent"}}},
     {"hconcat":[
       {"title":{"text":"C","anchor":"start","frame":"group","fontSize":25,"fontWeight":"bold","color":"black","dx":-30,"offset":-32,"baseline":"alphabetic"},
        "columns":3,
        "bounds":"flush",
        "align":"each",
        "spacing":{"row":20,"column":14},
        "data":{"name":"logo"},
        "concat":[
          {"width":72,"height":57,"transform":[{"filter":"datum.panel==='g1'"},{"stack":"b","groupby":["pos"],"sort":[{"field":"b","order":"ascending"}],"as":["b0","b1"]}],
           "mark":{"type":"text","baseline":"alphabetic","align":"center","font":"DejaVu Sans Condensed, Liberation Sans Narrow, Liberation Sans","fontWeight":"bold"},
           "encoding":{"x":{"field":"pos","type":"quantitative","scale":{"domain":[0.5,6.5],"nice":false},"axis":{"values":[5],"labelFontSize":6,"ticks":true,"tickSize":3,"domain":true,"domainColor":"#333","tickColor":"#333","grid":false,"title":null,"labelPadding":1}},
             "y":{"field":"b0","type":"quantitative","scale":{"domain":[0,2],"nice":false},"axis":{"values":[0,1,2],"labelOverlap":false,"format":".1f","labelFontSize":6,"ticks":true,"tickSize":3,"domain":true,"domainColor":"#333","tickColor":"#333","grid":false,"title":"bits","titleFontSize":7,"titlePadding":2,"labelPadding":1}},
             "text":{"field":"l"},
             "color":{"field":"l","type":"nominal","scale":{"domain":["A","C","G","T"],"range":["#F7941D","#1414E6","#1414E6","#F7941D"]},"legend":null},
             "size":{"field":"b","type":"quantitative","scale":{"domain":[0,2],"range":[3,28]},"legend":null}}},
          {"width":77,"height":57,"transform":[{"filter":"datum.panel==='g2'"},{"stack":"b","groupby":["pos"],"sort":[{"field":"b","order":"ascending"}],"as":["b0","b1"]}],
           "mark":{"type":"text","baseline":"alphabetic","align":"center","font":"DejaVu Sans Condensed, Liberation Sans Narrow, Liberation Sans","fontWeight":"bold"},
           "encoding":{"x":{"field":"pos","type":"quantitative","scale":{"domain":[0.5,7.5],"nice":false},"axis":{"values":[5],"labelFontSize":6,"ticks":true,"tickSize":3,"domain":true,"domainColor":"#333","tickColor":"#333","grid":false,"title":"Genome","titleFontSize":12,"titlePadding":0,"labelPadding":1}},
             "y":{"field":"b0","type":"quantitative","scale":{"domain":[0,2],"nice":false},"axis":{"values":[0,1,2],"labelOverlap":false,"format":".1f","labelFontSize":6,"ticks":true,"tickSize":3,"domain":true,"domainColor":"#333","tickColor":"#333","grid":false,"title":null,"labelPadding":1}},
             "text":{"field":"l"},
             "color":{"field":"l","type":"nominal","scale":{"domain":["A","C","G","T"],"range":["#F7941D","#1414E6","#1414E6","#F7941D"]},"legend":null},
             "size":{"field":"b","type":"quantitative","scale":{"domain":[0,2],"range":[3,28]},"legend":null}}},
          {"width":77,"height":57,"transform":[{"filter":"datum.panel==='g3'"},{"stack":"b","groupby":["pos"],"sort":[{"field":"b","order":"ascending"}],"as":["b0","b1"]}],
           "mark":{"type":"text","baseline":"alphabetic","align":"center","font":"DejaVu Sans Condensed, Liberation Sans Narrow, Liberation Sans","fontWeight":"bold"},
           "encoding":{"x":{"field":"pos","type":"quantitative","scale":{"domain":[0.5,7.5],"nice":false},"axis":{"values":[5],"labelFontSize":6,"ticks":true,"tickSize":3,"domain":true,"domainColor":"#333","tickColor":"#333","grid":false,"title":null,"labelPadding":1}},
             "y":{"field":"b0","type":"quantitative","scale":{"domain":[0,2],"nice":false},"axis":{"values":[0,1,2],"labelOverlap":false,"format":".1f","labelFontSize":6,"ticks":true,"tickSize":3,"domain":true,"domainColor":"#333","tickColor":"#333","grid":false,"title":null,"labelPadding":1}},
             "text":{"field":"l"},
             "color":{"field":"l","type":"nominal","scale":{"domain":["A","C","G","T"],"range":["#F7941D","#1414E6","#1414E6","#F7941D"]},"legend":null},
             "size":{"field":"b","type":"quantitative","scale":{"domain":[0,2],"range":[3,28]},"legend":null}}},
          {"width":72,"height":57,"transform":[{"filter":"datum.panel==='n1'"},{"stack":"b","groupby":["pos"],"sort":[{"field":"b","order":"ascending"}],"as":["b0","b1"]}],
           "mark":{"type":"text","baseline":"alphabetic","align":"center","font":"DejaVu Sans Condensed, Liberation Sans Narrow, Liberation Sans","fontWeight":"bold"},
           "encoding":{"x":{"field":"pos","type":"quantitative","scale":{"domain":[0.5,6.5],"nice":false},"axis":{"values":[5],"labelFontSize":6,"ticks":true,"tickSize":3,"domain":true,"domainColor":"#333","tickColor":"#333","grid":false,"title":null,"labelPadding":1}},
             "y":{"field":"b0","type":"quantitative","scale":{"domain":[0,2],"nice":false},"axis":{"values":[0,1,2],"labelOverlap":false,"format":".1f","labelFontSize":6,"ticks":true,"tickSize":3,"domain":true,"domainColor":"#333","tickColor":"#333","grid":false,"title":"bits","titleFontSize":7,"titlePadding":2,"labelPadding":1}},
             "text":{"field":"l"},
             "color":{"field":"l","type":"nominal","scale":{"domain":["A","C","G","T"],"range":["#F7941D","#1414E6","#1414E6","#F7941D"]},"legend":null},
             "size":{"field":"b","type":"quantitative","scale":{"domain":[0,2],"range":[3,28]},"legend":null}}},
          {"width":77,"height":57,"transform":[{"filter":"datum.panel==='n2'"},{"stack":"b","groupby":["pos"],"sort":[{"field":"b","order":"ascending"}],"as":["b0","b1"]}],
           "mark":{"type":"text","baseline":"alphabetic","align":"center","font":"DejaVu Sans Condensed, Liberation Sans Narrow, Liberation Sans","fontWeight":"bold"},
           "encoding":{"x":{"field":"pos","type":"quantitative","scale":{"domain":[0.5,7.5],"nice":false},"axis":{"values":[5],"labelFontSize":6,"ticks":true,"tickSize":3,"domain":true,"domainColor":"#333","tickColor":"#333","grid":false,"title":"Gene","titleFontSize":12,"titlePadding":0,"labelPadding":1}},
             "y":{"field":"b0","type":"quantitative","scale":{"domain":[0,2],"nice":false},"axis":{"values":[0,1,2],"labelOverlap":false,"format":".1f","labelFontSize":6,"ticks":true,"tickSize":3,"domain":true,"domainColor":"#333","tickColor":"#333","grid":false,"title":null,"labelPadding":1}},
             "text":{"field":"l"},
             "color":{"field":"l","type":"nominal","scale":{"domain":["A","C","G","T"],"range":["#F7941D","#1414E6","#1414E6","#F7941D"]},"legend":null},
             "size":{"field":"b","type":"quantitative","scale":{"domain":[0,2],"range":[3,28]},"legend":null}}},
          {"width":77,"height":57,"transform":[{"filter":"datum.panel==='n3'"},{"stack":"b","groupby":["pos"],"sort":[{"field":"b","order":"ascending"}],"as":["b0","b1"]}],
           "mark":{"type":"text","baseline":"alphabetic","align":"center","font":"DejaVu Sans Condensed, Liberation Sans Narrow, Liberation Sans","fontWeight":"bold"},
           "encoding":{"x":{"field":"pos","type":"quantitative","scale":{"domain":[0.5,7.5],"nice":false},"axis":{"values":[5],"labelFontSize":6,"ticks":true,"tickSize":3,"domain":true,"domainColor":"#333","tickColor":"#333","grid":false,"title":null,"labelPadding":1}},
             "y":{"field":"b0","type":"quantitative","scale":{"domain":[0,2],"nice":false},"axis":{"values":[0,1,2],"labelOverlap":false,"format":".1f","labelFontSize":6,"ticks":true,"tickSize":3,"domain":true,"domainColor":"#333","tickColor":"#333","grid":false,"title":null,"labelPadding":1}},
             "text":{"field":"l"},
             "color":{"field":"l","type":"nominal","scale":{"domain":["A","C","G","T"],"range":["#F7941D","#1414E6","#1414E6","#F7941D"]},"legend":null},
             "size":{"field":"b","type":"quantitative","scale":{"domain":[0,2],"range":[3,28]},"legend":null}}}
        ]},
       {"title":{"text":"E","anchor":"start","frame":"group","fontSize":25,"fontWeight":"bold","color":"black","dx":-28,"offset":-25,"baseline":"alphabetic"},
        "width":255,"height":139,
        "view":{"fill":"#EAEAF2"},
        "layer":[
          {"data":{"name":"e"},"transform":[{"fold":["CG","CHG","CHH"],"as":["ctx","m"]}],
           "mark":{"type":"line","strokeWidth":1},
           "encoding":{
             "x":{"field":"p","type":"quantitative","scale":{"domain":[0,130],"nice":false},"axis":{"orient":"bottom","values":[17,33,49,65,81.5,98,114.5],"labels":false,"title":null,"grid":true}},
             "y":{"field":"m","type":"quantitative","scale":{"domain":[0.055,1.08],"nice":false},"axis":{"values":[0.2,0.4,0.6,0.8,1.0],"labelOverlap":false,"format":".1f","labelFontSize":7,"title":"Average methylation level","titleFontSize":11,"labelPadding":5}},
             "color":{"field":"ctx","type":"nominal","scale":{"domain":["CG","CHG","CHH"],"range":["#4C72B0","#55A868","#C44E52"]},"legend":{"title":null,"orient":"top-right","symbolType":"stroke","labelFontSize":6,"symbolSize":90,"symbolStrokeWidth":1.3,"offset":5,"rowPadding":1,"labelOffset":4}}
           }},
          {"data":{"values":[{"s":0,"e":20,"seg":"up"},{"s":20,"e":101,"seg":"body"},{"s":101,"e":130,"seg":"down"}]},
           "mark":{"type":"rect"},
           "encoding":{
             "x":{"field":"s","type":"quantitative","axis":{"orient":"bottom","values":[0,20,58,101,127],"labelOverlap":false,"labelExpr":"datum.value==0?'-1Kb':datum.value==20?'TSS':datum.value==58?'Gene body':datum.value==101?'TTS':'+1Kb'","labelAlign":{"condition":{"test":"datum.value==0","value":"left"},"value":"center"},"labelFontSize":12,"labelPadding":3,"grid":false,"title":null,"labelColor":"#000"}},
             "x2":{"field":"e"},
             "y":{"datum":0.055,"axis":{"values":[0.2,0.4,0.6,0.8,1.0],"labelOverlap":false,"format":".1f","labelFontSize":7,"title":"Average methylation level","titleFontSize":11,"labelPadding":5}},
             "y2":{"datum":0.085},
             "fill":{"field":"seg","type":"nominal","scale":{"domain":["up","body","down"],"range":["#000000","#FF0000","#000000"]},"legend":null}
           }}
        ],
        "resolve":{"axis":{"x":"independent"}}}
     ],"spacing":48,
     "resolve":{"scale":{"color":"independent","size":"independent","fill":"independent"},"legend":{"color":"independent","size":"independent","fill":"independent"}}}
   ],"spacing":10,
   "resolve":{"scale":{"color":"independent","size":"independent","fill":"independent"},"legend":{"color":"independent","size":"independent","fill":"independent"}}}
 ],"spacing":24,
 "resolve":{"scale":{"color":"independent","size":"independent","fill":"independent"},"legend":{"color":"independent","size":"independent","fill":"independent"}}},
 {"title":{"text":"F","anchor":"start","frame":"group","fontSize":25,"fontWeight":"bold","color":"black","dx":-53,"offset":-44,"baseline":"alphabetic"},
  "width":792,"height":199,
  "view":{"fill":"#EAEAF2"},
  "data":{"name":"f"},
  "transform":[{"fold":["CG+","CG-","CHG+","CHG-","CHH+","CHH-"],"as":["s","v"]}],
  "mark":{"type":"line","strokeWidth":1},
  "encoding":{
    "x":{"field":"x","type":"quantitative","scale":{"domain":[0,40000],"nice":false},"axis":{"values":[0,5000,10000,15000,20000,25000,30000,35000],"labelOverlap":false,"format":"d","labelFontSize":8,"title":"Genomic position (Kb)","titleFontSize":11,"labelPadding":3,"titlePadding":2,"grid":true}},
    "y":{"field":"v","type":"quantitative","scale":{"domain":[-3000,3000],"nice":false},"axis":{"values":[-3000,-2000,-1000,0,1000,2000,3000],"labelOverlap":false,"format":"d","labelFontSize":8,"title":"mC counts","titleFontSize":11,"labelPadding":7}},
    "color":{"field":"s","type":"nominal","scale":{"domain":["CG+","CG-","CHG+","CHG-","CHH+","CHH-"],"range":["#4C72B0","#55A868","#C44E52","#8172B2","#CCB974","#64B5CD"]},"legend":{"title":null,"orient":"top-right","symbolType":"stroke","labelFontSize":7,"symbolSize":150,"symbolStrokeWidth":1.5,"offset":6,"rowPadding":1,"labelOffset":4}}
  }}
]
}
